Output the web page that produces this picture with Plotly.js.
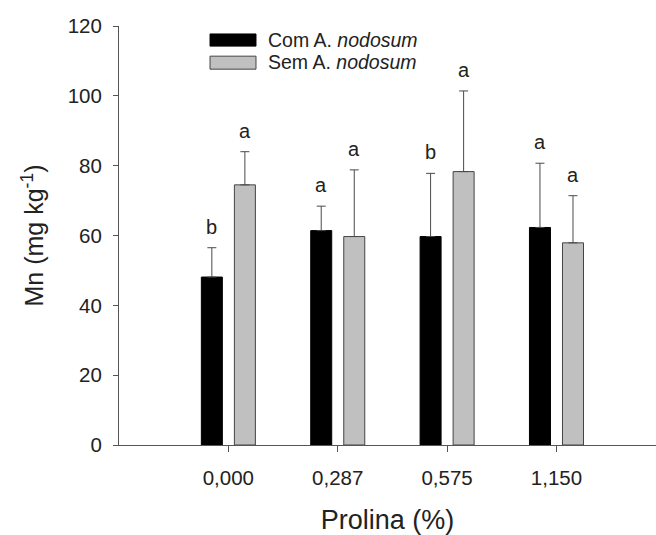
<!DOCTYPE html>
<html>
<head>
<meta charset="utf-8">
<script src="https://cdn.plot.ly/plotly-3.0.1.min.js"></script>
<style>html,body{margin:0;padding:0;background:#fff;}#chart{width:656px;height:535px;}</style>
</head>
<body>
<div id="chart"></div>
<script>
var categories = ["0,000", "0,287", "0,575", "1,150"];
var comValues = [48.1, 61.4, 59.7, 62.3];
var comErrors = [8.4, 7.0, 18.1, 18.4];
var semValues = [74.5, 59.7, 78.3, 57.9];
var semErrors = [9.5, 19.1, 23.1, 13.5];
var comLetters = ["b", "a", "b", "a"];
var semLetters = ["a", "a", "a", "a"];
var seriesNames = ["Com A. <i>nodosum</i>", "Sem A. <i>nodosum</i>"];
var yTicks = [0, 20, 40, 60, 80, 100, 120];

var FONT = "Liberation Sans, Arial, sans-serif";
var TXT = "#222222";

var zeros = categories.map(function(){ return 0; });

var traces = [
  {
    type: "bar", x: categories, y: comValues, name: seriesNames[0],
    width: 0.192, offset: -0.247,
    marker: {color: "#000000", line: {color: "#000000", width: 1}},
    error_y: {type: "data", array: comErrors, arrayminus: zeros, symmetric: false,
              color: "#4a4a4a", thickness: 1, width: 4.5},
    showlegend: false, hoverinfo: "none"
  },
  {
    type: "bar", x: categories, y: semValues, name: seriesNames[1],
    width: 0.192, offset: 0.055,
    marker: {color: "#c0c0c0", line: {color: "#444444", width: 1}},
    error_y: {type: "data", array: semErrors, arrayminus: zeros, symmetric: false,
              color: "#4a4a4a", thickness: 1, width: 4.5},
    showlegend: false, hoverinfo: "none"
  }
];

var annotations = [];
categories.forEach(function(c, i){
  annotations.push({x: c, y: comValues[i] + comErrors[i], xref: "x", yref: "y",
    text: comLetters[i], showarrow: false, xshift: -16.5, yshift: 8, yanchor: "bottom",
    font: {family: FONT, size: 20, color: TXT}});
  annotations.push({x: c, y: semValues[i] + semErrors[i], xref: "x", yref: "y",
    text: semLetters[i], showarrow: false, xshift: 16.5, yshift: 8, yanchor: "bottom",
    font: {family: FONT, size: 20, color: TXT}});
});
// legend texts
annotations.push({xref: "paper", yref: "paper", x: 0.274, y: 0.966, xanchor: "left", yanchor: "middle",
  text: seriesNames[0], showarrow: false, font: {family: FONT, size: 19.5, color: TXT}});
annotations.push({xref: "paper", yref: "paper", x: 0.274, y: 0.913, xanchor: "left", yanchor: "middle",
  text: seriesNames[1], showarrow: false, font: {family: FONT, size: 19.5, color: TXT}});

var shapes = [
  {type: "rect", xref: "paper", yref: "paper", x0: 0.1695, x1: 0.2551, y0: 0.952, y1: 0.981,
   fillcolor: "#000000", line: {color: "#000000", width: 1}},
  {type: "rect", xref: "paper", yref: "paper", x0: 0.1695, x1: 0.2551, y0: 0.897, y1: 0.928,
   fillcolor: "#c0c0c0", line: {color: "#444444", width: 1}}
];

var layout = {
  width: 656, height: 535,
  margin: {l: 119, r: 0, t: 26, b: 90},
  paper_bgcolor: "#ffffff", plot_bgcolor: "#ffffff",
  showlegend: false,
  barmode: "group",
  font: {family: FONT, color: TXT},
  xaxis: {
    type: "category", categoryorder: "array", categoryarray: categories,
    range: [-1.0, 3.91],
    showgrid: false, zeroline: false,
    showline: true, linecolor: "#555555", linewidth: 1,
    ticks: "outside", ticklen: 6, tickcolor: "#555555",
    ticklabelstandoff: 8,
    tickfont: {family: FONT, size: 20.5, color: TXT},
    title: {text: "Prolina (%)", font: {family: FONT, size: 27, color: TXT}, standoff: 22}
  },
  yaxis: {
    range: [0, 120], tickvals: yTicks, ticktext: yTicks.map(String),
    showgrid: false, zeroline: false,
    showline: true, linecolor: "#555555", linewidth: 1,
    ticks: "outside", ticklen: 5, tickcolor: "#555555",
    ticklabelstandoff: 7,
    tickfont: {family: FONT, size: 20.5, color: TXT},
    title: {text: "Mn (mg kg<sup>-1</sup>)", font: {family: FONT, size: 25, color: TXT}, standoff: 16}
  },
  annotations: annotations,
  shapes: shapes
};

Plotly.newPlot("chart", traces, layout, {displayModeBar: false, staticPlot: true});
</script>
</body>
</html>
